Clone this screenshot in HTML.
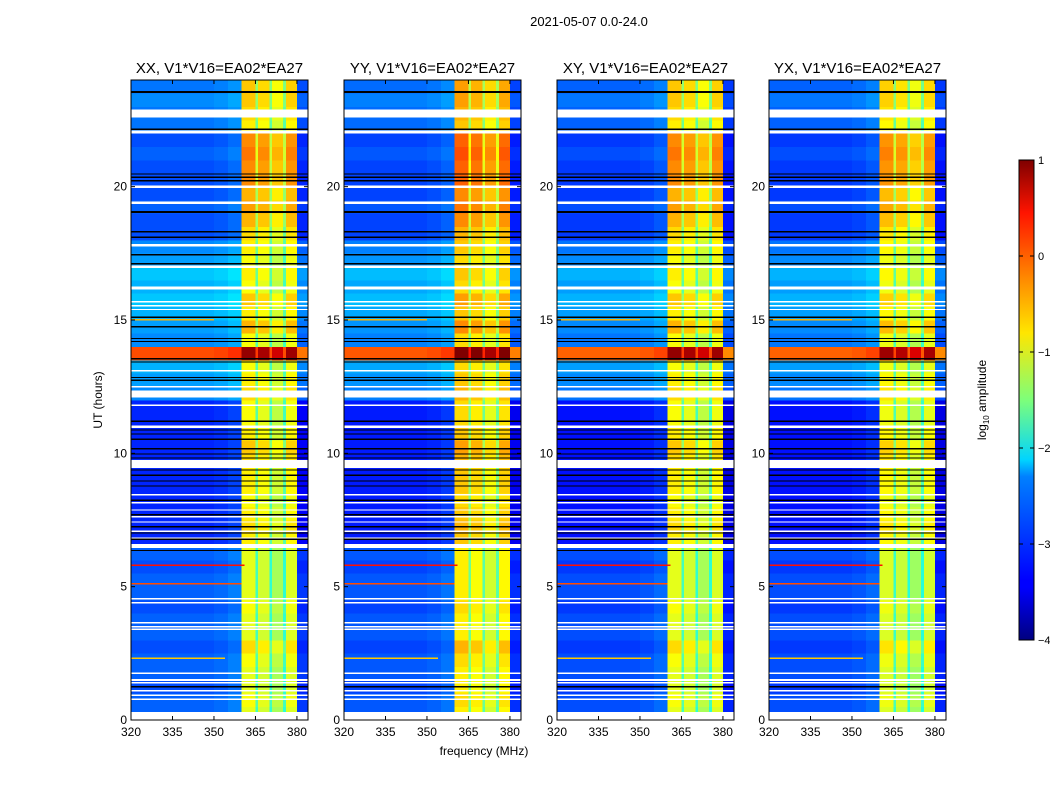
<!DOCTYPE html>
<html><head><meta charset="utf-8"><style>
body{margin:0;background:#fff;}
svg{display:block;font-family:"Liberation Sans",sans-serif;}
</style></head><body>
<svg id="fig" width="1050" height="800" viewBox="0 0 1050 800">
<defs>
<linearGradient id="jet" x1="0" y1="1" x2="0" y2="0">
<stop offset="0" stop-color="#00007f"/><stop offset="0.11" stop-color="#0000ff"/><stop offset="0.125" stop-color="#0000ff"/>
<stop offset="0.34" stop-color="#0080ff"/><stop offset="0.375" stop-color="#00d4ff"/><stop offset="0.5" stop-color="#7dff7a"/>
<stop offset="0.64" stop-color="#ffe600"/><stop offset="0.75" stop-color="#ff8c00"/><stop offset="0.89" stop-color="#ff1400"/><stop offset="1" stop-color="#7f0000"/>
</linearGradient>
</defs>
<text x="589" y="26" font-size="13" text-anchor="middle">2021-05-07 0.0-24.0</text>
<text x="484" y="755" font-size="12" text-anchor="middle">frequency (MHz)</text>
<text x="102" y="400" font-size="12" text-anchor="middle" transform="rotate(-90 102 400)">UT (hours)</text>
<g id="panels"></g>
<g>
<rect x="1019" y="160" width="15" height="480" fill="url(#jet)" stroke="#000" stroke-width="1"/>
<g id="cbticks"></g>
<text x="986" y="400" font-size="12" text-anchor="middle" transform="rotate(-90 986 400)">log<tspan font-size="8" dy="3">10</tspan><tspan dy="-3"> amplitude</tspan></text>
</g>
</svg>
<script>
// ---- data ----
const panelTitles = ["XX, V1*V16=EA02*EA27","YY, V1*V16=EA02*EA27","XY, V1*V16=EA02*EA27","YX, V1*V16=EA02*EA27"];
const panelBandOffset = [-0.1, 0.1, -0.1, -0.15];
const panelBgOffset = [0, -0.05, -0.1, -0.1];
const freqTicks = [320,335,350,365,380];
const timeTicks = [0,5,10,15,20];
const cbTicks = [1,0,-1,-2,-3,-4];
// per 0.5h row, 0..24h, outside-band level
const bgRow = [-2.9,-2.9,-3.0,-2.9,-2.9,-3.0,-2.9,-2.9,-3.0,-2.9,-2.9,-3.0,-2.9,
 -3.2,-3.2,-3.2,-3.2,-3.2,-3.2,-3.2,-3.2,-3.2,-3.2,-3.2,
 -2.7,-2.6,-2.5,0.0,-2.7,-2.6,
 -2.5,-2.4,-2.5,-2.4,-2.6,-2.7,
 -3.0,-3.0,-2.9,-3.0,-3.0,-3.0,-2.9,-3.0,
 -2.8,-2.8,-2.7,-2.8];
// per 0.5h row, in-band level
const bandRow = [-1.0,-0.9,-1.0,-1.0,-0.9,-0.7,-1.0,-1.0,-0.9,-1.0,-1.0,-1.0,-1.0,
 -0.8,-0.7,-0.8,-0.9,-0.8,-0.8,-0.7,-0.6,-0.8,-0.9,-0.9,
 -0.7,-0.8,-0.9,0.9,-0.9,-0.5,
 -0.8,-0.6,-0.9,-0.8,-0.9,-0.8,
 -0.7,-0.5,-0.4,-0.5,-0.3,-0.3,-0.2,-0.3,
 -0.8,-0.7,-0.6,-0.6];
// per 1 MHz column 320..383
const bandMask = [0,0,0,0,0,0,0,0,0,0, 0,0,0,0,0,0,0,0,0,0, 0,0,0,0,0,0,0,0,0,0, 0,0,0,0,0,0,0,0,0,0,
 1,1,1,1,1,1,1,1,1,1, 1,1,1,1,1,1,1,1,1,1, 0,0,0,0];
const colProfile = [0,0,0,0,0,0,0,0,0,0, 0,0,0,0,0,0,0,0,0,0, 0,0,0,0,0,0,0,0,0,0, 0.05,0.05,0.05,0.05,0.05,0.15,0.15,0.15,0.15,0.15,
 0.1,0.1,0.1,0.1,0.1,-0.7,0,0,0,0, -0.8,-0.2,-0.2,-0.2,-0.2,-0.8,0.05,0.05,0.05,0.05, -0.2,-0.2,-0.2,-0.2];
// flagged (white) and black rows: [start, end] in hours
const flagRows = [[22.6,22.9],[22.0,22.1],[19.95,20.05],[19.35,19.45],[17.75,17.85],[16.95,17.05],[16.15,16.25],[15.65,15.72],[15.5,15.57],[15.37,15.42],
 [13.07,13.13],[12.47,12.53],[12.1,12.35],[11.77,11.83],[10.95,11.05],[9.45,9.75],[8.42,8.48],[8.12,8.18],[7.85,7.9],[7.6,7.65],[7.4,7.45],[7.05,7.1],[6.8,6.85],[6.45,6.6],
 [4.52,4.58],[4.37,4.43],[3.62,3.68],[3.47,3.53],[3.37,3.43],[1.72,1.78],[1.47,1.53],[1.37,1.43],[1.07,1.12],[0.9,0.95],[0.75,0.8],[0,0.3]];
const blackRows = [[23.52,23.58],[22.12,22.18],[20.45,20.5],[20.33,20.38],[20.2,20.25],[19.02,19.08],[18.28,18.33],[18.08,18.13],[17.42,17.47],[17.08,17.13],
 [15.08,15.13],[14.72,14.78],[14.28,14.33],[14.17,14.22],[13.52,13.58],[13.4,13.45],[12.82,12.87],[12.72,12.77],
 [11.17,11.23],[10.85,10.9],[10.7,10.75],[10.5,10.55],[10.15,10.2],[9.95,10.0],[9.8,9.85],[9.35,9.4],[9.15,9.2],[8.95,8.98],[8.75,8.8],[8.22,8.27],[7.68,7.72],[7.22,7.27],[7.0,7.03],[6.75,6.8],[6.33,6.38],[1.22,1.28]];
// RFI lines: [time, fStart, fEnd, level]
const rfiLines = [[5.8,320,361,0.3],[5.1,320,360,0.0],[2.3,320,354,-0.6],[15.0,320,350,-0.5]];

// ---- drawing ----
const NS="http://www.w3.org/2000/svg";
const panelX=[131,344,557,769], PW=177, PT=80, PB=720;
const fMin=320, fMax=384, tMin=0, tMax=24;
function jet(v){let x=(v+4)/5;x=Math.max(0,Math.min(1,x));
 const c=t=>Math.max(0,Math.min(1,1.5-Math.abs(4*x-t)));
 return `rgb(${Math.round(255*c(3))},${Math.round(255*c(2))},${Math.round(255*c(1))})`;}
function mk(tag,attrs,parent){const e=document.createElementNS(NS,tag);for(const k in attrs)e.setAttribute(k,attrs[k]);parent.appendChild(e);return e;}
const root=document.getElementById('panels');
panelX.forEach((x0,p)=>{
 const xs=f=>x0+(f-fMin)/(fMax-fMin)*PW;
 const ys=t=>PB-(t-tMin)/(tMax-tMin)*(PB-PT);
 const g=mk('g',{},root);
 
 
 const cg=mk('g',{'shape-rendering':'crispEdges'},g);
 for(let i=0;i<bgRow.length;i++){
  const t0=i*0.5,t1=t0+0.5;
  for(let j=0;j<colProfile.length;j++){
   const f0=fMin+j,f1=f0+1;
   const v=bandMask[j]?bandRow[i]+colProfile[j]+panelBandOffset[p]:bgRow[i]+colProfile[j]+panelBgOffset[p];
   const r=mk('rect',{x:xs(f0),y:ys(t1),width:xs(f1)-xs(f0)+0.3,height:ys(t0)-ys(t1)+0.3,fill:jet(v)},cg);
   
   
  }
 }
 rfiLines.forEach(l=>{const r=mk('rect',{x:xs(l[1]),y:ys(l[0])-1,width:xs(l[2])-xs(l[1]),height:1.5,fill:jet(l[3])},cg);
  
  });
 blackRows.forEach(b=>{const r=mk('rect',{x:x0,y:ys(b[1]),width:PW,height:Math.max(1.2,ys(b[0])-ys(b[1])),fill:'#000'},cg);
  
  });
 flagRows.forEach(b=>{const r=mk('rect',{x:x0,y:ys(b[1]),width:PW,height:Math.max(1.2,ys(b[0])-ys(b[1])),fill:'#fff'},cg);
  
  });
 const fr=mk('rect',{x:x0,y:PT,width:PW,height:PB-PT,fill:'none',stroke:'#000','stroke-width':1},g);
 
 
 const tt=mk('text',{x:x0+PW/2,y:73,'font-size':15,'text-anchor':'middle'},g);
 tt.textContent=panelTitles[p];
 
 
 freqTicks.forEach(f=>{const x=xs(f);
  mk('line',{x1:x,x2:x,y1:PB,y2:PB-4,stroke:'#000'},g);mk('line',{x1:x,x2:x,y1:PT,y2:PT+4,stroke:'#000'},g);
  const t=mk('text',{x:x,y:PB+16,'font-size':12,'text-anchor':'middle'},g);t.textContent=f;
  
  });
 timeTicks.forEach(v=>{const y=ys(v);
  mk('line',{x1:x0,x2:x0+4,y1:y,y2:y,stroke:'#000'},g);mk('line',{x1:x0+PW,x2:x0+PW-4,y1:y,y2:y,stroke:'#000'},g);
  const t=mk('text',{x:x0-4,y:y+4,'font-size':12,'text-anchor':'end'},g);t.textContent=v;
  
  });
});
const cb=document.getElementById('cbticks');
cbTicks.forEach(v=>{const y=640-(v+4)/5*480;
 mk('line',{x1:1019,x2:1023,y1:y,y2:y,stroke:'#000'},cb);mk('line',{x1:1034,x2:1030,y1:y,y2:y,stroke:'#000'},cb);
 const t=mk('text',{x:1038,y:y+4,'font-size':11},cb);t.textContent=v<0?'\u2212'+(-v):v;
 
 });
</script>
</body></html>
